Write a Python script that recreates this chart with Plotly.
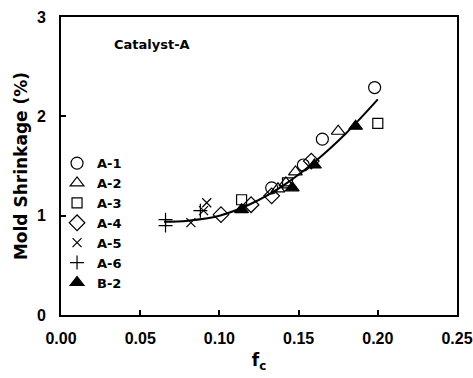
import plotly.graph_objects as go

# Data
a1_x = [0.133, 0.153, 0.165, 0.198]
a1_y = [1.28, 1.51, 1.77, 2.29]
a2_x = [0.137, 0.142, 0.148, 0.175]
a2_y = [1.27, 1.33, 1.44, 1.85]
a3_x = [0.114, 0.143, 0.200]
a3_y = [1.16, 1.33, 1.93]
a4_x = [0.101, 0.120, 0.133, 0.158]
a4_y = [1.01, 1.11, 1.20, 1.55]
a5_x = [0.082, 0.090, 0.092]
a5_y = [0.93, 1.05, 1.13]
a6_x = [0.066, 0.066, 0.088]
a6_y = [0.96, 0.90, 1.05]
b2_x = [0.114, 0.146, 0.160, 0.186]
b2_y = [1.06, 1.28, 1.51, 1.90]

curve_x = [0.065, 0.08, 0.10, 0.12, 0.14, 0.16, 0.18, 0.20]
curve_y = [0.94, 0.95, 1.00, 1.12, 1.30, 1.54, 1.83, 2.17]

x_ticks = [0.00, 0.05, 0.10, 0.15, 0.20, 0.25]
y_ticks = [0, 1, 2, 3]

series = [
    ("A-1", a1_x, a1_y, "circle-open", 12),
    ("A-2", a2_x, a2_y, "triangle-up-open", 12),
    ("A-3", a3_x, a3_y, "square-open", 10),
    ("A-4", a4_x, a4_y, "diamond-open", 12),
    ("A-5", a5_x, a5_y, "x-thin-open", 9),
    ("A-6", a6_x, a6_y, "cross-thin-open", 10),
    ("B-2", b2_x, b2_y, "triangle-up", 12),
]

fig = go.Figure()
fig.add_trace(go.Scatter(x=curve_x, y=curve_y, mode="lines",
                         line=dict(color="black", width=2, shape="spline"),
                         showlegend=False, hoverinfo="skip"))
for name, xs, ys, sym, sz in series:
    fig.add_trace(go.Scatter(x=xs, y=ys, mode="markers", name=name,
                             marker=dict(symbol=sym, size=sz, color="black",
                                         line=dict(color="black", width=1.2))))

font = "DejaVu Sans, Arial, sans-serif"
tickfont = dict(family="Liberation Sans, Arial, sans-serif", size=16, weight="bold")
fig.update_layout(
    width=473, height=378,
    margin=dict(l=61, r=16, t=17, b=63),
    paper_bgcolor="white", plot_bgcolor="white",
    font=dict(family=font, color="black", size=15),
    xaxis=dict(range=[0, 0.25], tickvals=x_ticks, ticktext=[f"{v:.2f}" for v in x_ticks],
               ticks="inside", ticklen=5, tickwidth=1.5, tickcolor="black",
               showline=True, linecolor="black", linewidth=2, mirror=True,
               showgrid=False, zeroline=False, ticklabelstandoff=8,
               ticklabeloverflow="allow", automargin=False,
               title=dict(text="f<sub>c</sub>", font=dict(size=17, weight="bold"), standoff=8),
               tickfont=tickfont),
    yaxis=dict(range=[0, 3], tickvals=y_ticks,
               ticks="inside", ticklen=5, tickwidth=1.5, tickcolor="black",
               showline=True, linecolor="black", linewidth=2, mirror=True,
               showgrid=False, zeroline=False, ticklabelstandoff=10,
               automargin=False,
               title=dict(text="Mold Shrinkage (%)", font=dict(size=17, weight="bold"), standoff=5),
               tickfont=tickfont),
    legend=dict(x=-0.01, y=0.56, xanchor="left", yanchor="top",
                bgcolor="rgba(0,0,0,0)", font=dict(size=13, weight="bold"),
                itemwidth=30, tracegroupgap=0),
    annotations=[dict(x=0.129, y=0.909, xref="paper", yref="paper",
                      text="Catalyst-A", showarrow=False,
                      xanchor="left", yanchor="middle", font=dict(size=13, weight="bold"))],
)
fig.write_html("out.html")
